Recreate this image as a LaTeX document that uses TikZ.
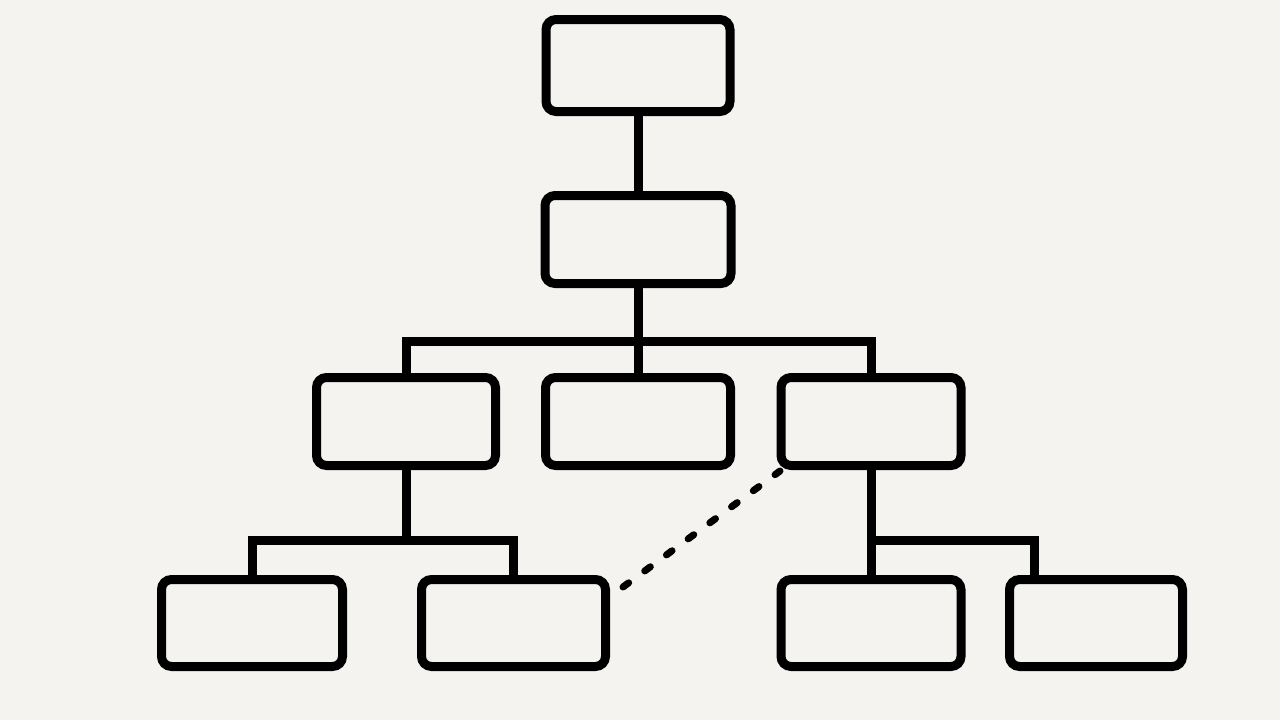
\documentclass[tikz,border=0pt]{standalone}
\usetikzlibrary{positioning}
\definecolor{paper}{HTML}{F4F3F0}
\tikzset{
  orgbox/.style={
    draw,
    line width=9pt,
    rounded corners=10pt,
    outer sep=0pt,
    minimum height=88pt
  },
  link/.style={
    draw,
    line width=9pt
  },
  dotted link/.style={
    draw,
    line width=7pt,
    line cap=round,
    dash pattern=on 7pt off 20pt
  }
}
\begin{document}
\begin{tikzpicture}[x=1pt,y=-1pt]
  \fill[paper] (0,0) rectangle (1280,720);
  \useasboundingbox (0,0) rectangle (1280,720);
  % boxes
  \node[orgbox, minimum width=184pt, minimum height=92pt] (root) at (638,65.5) {};
  \node[orgbox, minimum width=186pt] (head) at (638,239.5) {};
  \node[orgbox, minimum width=179pt] (left) at (406,421.5) {};
  \node[orgbox, minimum width=185pt] (middle) at (638,421.5) {};
  \node[orgbox, minimum width=180pt] (right) at (871,421.5) {};
  \node[orgbox, minimum width=181pt, minimum height=87pt] (leftA) at (252,623) {};
  \node[orgbox, minimum width=184pt, minimum height=87pt] (leftB) at (513.5,623) {};
  \node[orgbox, minimum width=180pt, minimum height=87pt] (rightA) at (871,623) {};
  \node[orgbox, minimum width=173pt, minimum height=87pt] (rightB) at (1096,623) {};
  % bars
  \coordinate (barTop) at (638,341);
  \coordinate (barLeft) at (406,540);
  \coordinate (barRight) at (1034.5,540);
  \coordinate (dashStart) at (623,587);
  \coordinate (dashEnd) at (780,471);
  % connectors
  \draw[link] (root.south) -- (head.north);
  \draw[link] (head.south) -- (middle.north);
  \draw[link] (left.north) |- (barTop) -| (right.north);
  \draw[link] (left.south) -- (barLeft);
  \draw[link] (leftA.north) |- (barLeft) -| (leftB.north);
  \draw[link] (right.south) -- (rightA.north);
  \draw[link] (right.south |- barRight) -- (barRight) -- (barRight |- rightB.north);
  \draw[dotted link] (dashStart) -- (dashEnd);
\end{tikzpicture}
\end{document}
